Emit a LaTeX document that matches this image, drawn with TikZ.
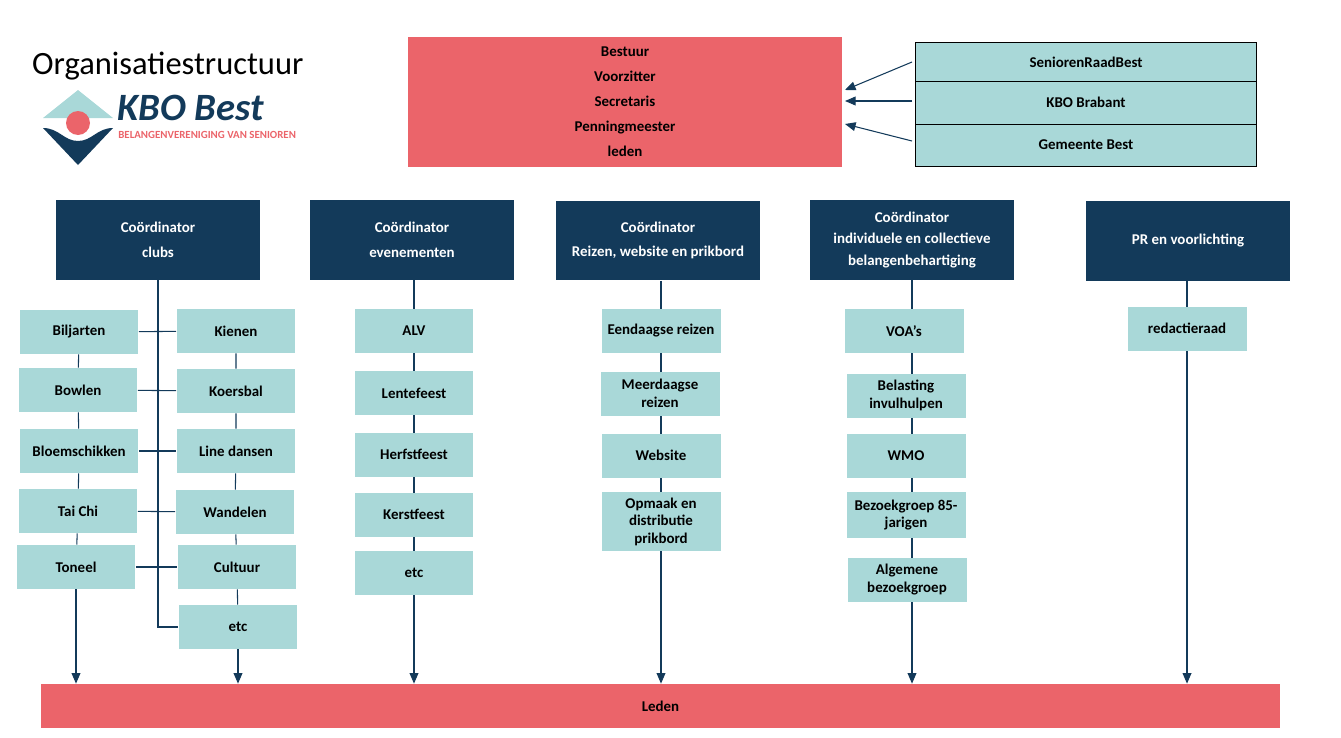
\documentclass[tikz,border=0pt]{standalone}
\usepackage{fontspec}
\setmainfont{Carlito}
\usetikzlibrary{arrows.meta,positioning,backgrounds}
\definecolor{kboteal}{HTML}{A9D8D8}
\definecolor{kbored}{HTML}{EB646A}
\definecolor{kbodark}{HTML}{133A5A}

\begin{document}
\begin{tikzpicture}[x=0.02cm, y=-0.02cm,
    box/.style={fill=kboteal, draw=none, minimum width=2.38cm, minimum height=0.88cm, align=center, font=\bfseries\fontsize{8.5}{10}\selectfont, inner sep=1pt},
    coord/.style={fill=kbodark, text=white, minimum width=4.08cm, minimum height=1.6cm, align=center, font=\bfseries\fontsize{8.5}{14}\selectfont},
    link/.style={draw=kbodark, line width=0.6pt},
    arrow/.style={link, -{Triangle[width=5pt,length=6pt]}}]
    \useasboundingbox (0,0) rectangle (1341,737);

    % title and logo
    \node [anchor=west, font=\fontsize{18.5}{20}\selectfont] (title) at (26,66) {Organisatiestructuur};
    \fill [kboteal] (43,118) -- (78,90) -- (113,118) -- cycle;
    \fill [kbodark] (43,128) -- (78,165) -- (113,128) .. controls (97,128) and (92,141) .. (78,141) .. controls (64,141) and (59,128) .. (43,128) -- cycle;
    \fill [kbored] (78,123) circle (12);
    \node [anchor=west, text=kbodark, font=\bfseries\itshape\fontsize{22}{24}\selectfont, inner sep=0pt] (logo) at (117,108) {KBO Best};
    \node [anchor=west, text=kbored, font=\bfseries\fontsize{6.2}{7}\selectfont, inner sep=0pt] (sub) at (118,135) {BELANGENVERENIGING VAN SENIOREN};

    % bestuur
    \node [fill=kbored, minimum width=8.68cm, minimum height=2.6cm, align=center, font=\bfseries\fontsize{8.5}{14.2}\selectfont] (bestuur) at (625,102)
        {Bestuur\\Voorzitter\\Secretaris\\Penningmeester\\leden};
    \node [box, draw=black, line width=0.5pt, minimum width=6.82cm, minimum height=0.78cm] (srb) at (1086,62) {SeniorenRaadBest};
    \node [box, draw=black, line width=0.5pt, minimum width=6.82cm, minimum height=0.86cm] (kbob) at (1086,102.5) {KBO Brabant};
    \node [box, draw=black, line width=0.5pt, minimum width=6.82cm, minimum height=0.84cm] (gem) at (1086,145) {Gemeente Best};
    \coordinate (b1) at (845,90);
    \coordinate (b2) at (845,101);
    \coordinate (b3) at (845,124);
    \draw [arrow] (912,62) -- (b1);
    \draw [arrow] (912,101) -- (b2);
    \draw [arrow] (912,141) -- (b3);

    % leden
    \node [fill=kbored, minimum width=24.78cm, minimum height=0.88cm, font=\bfseries\fontsize{8.5}{10}\selectfont] (leden) at (660.5,706) {Leden};

    % coordinators
    \node [coord] (clubs) at (158,240) {Coördinator\\clubs};
    \node [coord] (even) at (412,240) {Coördinator\\evenementen};
    \node [coord] (reizen) at (658,240.5) {Coördinator\\Reizen, website en prikbord};
    \node [coord, font=\bfseries\fontsize{8.5}{12.5}\selectfont] (belang) at (912,240) {Coördinator\\individuele en collectieve\\belangenbehartiging};
    \node [coord] (pr) at (1188,241) {PR en voorlichting};

    % clubs
    \foreach \name/\txt/\x/\y in {bil/Biljarten/79/332, bow/Bowlen/78/390, blo/Bloemschikken/79/451, tai/Tai Chi/78/511, ton/Toneel/76/567}
        \node [box] (\name) at (\x,\y) {\txt};
    \foreach \name/\txt/\x/\y in {kie/Kienen/236/331, koe/Koersbal/236/391, lin/Line dansen/236/451, wan/Wandelen/235/512, cul/Cultuur/237/567, cetc/etc/238/627}
        \node [box] (\name) at (\x,\y) {\txt};

    % evenementen
    \foreach \name/\txt/\y in {alv/ALV/331, len/Lentefeest/393, her/Herfstfeest/454.5, ker/Kerstfeest/514.5, eetc/etc/573}
        \node [box] (\name) at (414,\y) {\txt};

    % reizen
    \node [box] (een) at (661,331) {Eendaagse reizen};
    \node [box] (mee) at (660,393.5) {Meerdaagse\\reizen};
    \node [box] (web) at (661,455.5) {Website};
    \node [box, minimum height=1.18cm] (opm) at (661,521.5) {Opmaak en\\distributie\\prikbord};

    % belangen
    \node [box] (voa) at (904,331) {VOA’s};
    \node [box] (bel) at (906,395.5) {Belasting\\invulhulpen};
    \node [box] (wmo) at (906,455.5) {WMO};
    \node [box, minimum height=0.92cm] (bez) at (906,515) {Bezoekgroep 85-\\jarigen};
    \node [box] (alg) at (907,579.5) {Algemene\\bezoekgroep};

    % pr
    \node [box] (red) at (1187,328.5) {redactieraad};

    % connectors behind the boxes
    \begin{scope}[on background layer]
        \draw [link] (clubs) -- (158,627) -- (cetc);
        \draw [link] (bil) -- (kie);
        \draw [link] (bow) -- (koe);
        \draw [link] (blo) -- (lin);
        \draw [link] (tai) -- (wan);
        \draw [link] (ton) -- (cul);
        \draw [link] (bil) -- (bow) -- (blo) -- (tai) -- (ton);
        \draw [link] (kie) -- (koe) -- (lin) -- (wan) -- (cul) -- (cetc);
        \draw [arrow] (ton.south) -- (ton.south |- leden.north);
        \draw [arrow] (cetc.south) -- (cetc.south |- leden.north);
        \draw [arrow] (even.south -| alv) -- (alv.south |- leden.north);
        \draw [arrow] (reizen.south -| een) -- (een.south |- leden.north);
        \draw [arrow] (belang.south) -- (belang.south |- leden.north);
        \draw [arrow] (pr.south -| red) -- (red.south |- leden.north);
    \end{scope}
\end{tikzpicture}
\end{document}
